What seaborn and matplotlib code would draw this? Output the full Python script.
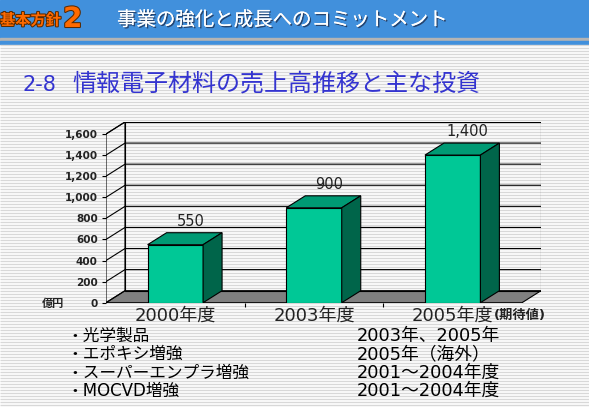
import numpy as np
import pandas as pd
import seaborn as sns
import matplotlib.pyplot as plt
from matplotlib.patches import Polygon, Rectangle
import matplotlib.patheffects as pe

# ---------------- data ----------------
years = ["2000年度", "2003年度", "2005年度"]
sales = [550, 900, 1400]
sales_labels = ["550", "900", "1,400"]
y_ticks = [0, 200, 400, 600, 800, 1000, 1200, 1400, 1600]
invest_items = ["・光学製品", "・エポキシ増強", "・スーパーエンプラ増強", "・MOCVD増強"]
invest_years = ["2003年、2005年", "2005年（海外）", "2001～2004年度", "2001～2004年度"]

sns.set_theme(style="white")
# wide latin digits from DejaVu, Japanese glyphs from Noto CJK
plt.rcParams['font.family'] = ['DejaVu Sans', 'Noto Sans CJK JP']
JP = ['Noto Sans CJK JP', 'DejaVu Sans']

W, H = 589, 408
fig = plt.figure(figsize=(W / 100, H / 100), dpi=100)

# background: stripes + banner, in pixel coords
bg = fig.add_axes([0, 0, 1, 1])
bg.set_xlim(0, W)
bg.set_ylim(H, 0)
bg.axis('off')
bg.hlines(np.arange(45, H, 3), 0, W, color='#d8d8d8', lw=1.0)
bg.add_patch(Rectangle((0, 0), W, 38, color='#4190dc'))
bg.add_patch(Rectangle((0, 38), W, 3, color='#b4b4b4'))
bg.add_patch(Rectangle((0, 41), W, 3, color='#4190dc'))

bg.text(0, 20, "基本方針", color='#ff6a00', fontsize=11, fontweight='bold', va='center', family=JP,
        path_effects=[pe.withStroke(linewidth=1.5, foreground='#5a2a00')])
bg.text(63, 19, "2", color='#ff6a00', fontsize=20, fontweight='bold', va='center',
        path_effects=[pe.withStroke(linewidth=1.5, foreground='#5a2a00')])
bg.text(117, 20, "事業の強化と成長へのコミットメント", color='white', fontsize=14, va='center', family=JP,
        path_effects=[pe.withSimplePatchShadow(offset=(1, -1), shadow_rgbFace='#203050', alpha=0.8),
                      pe.Normal()])
bg.text(22, 85, "2-8", color='#3434d0', fontsize=15, va='center')
bg.text(72, 85, "情報電子材料の売上高推移と主な投資", color='#3434d0', fontsize=17.3, va='center', family=JP)
bg.text(42, 303, "億円", fontsize=8, fontweight='bold', va='center', color='#222222', family=JP)

for i, (item, yr) in enumerate(zip(invest_items, invest_years)):
    yy = 336 + i * 18.3
    bg.text(66, yy, item, fontsize=12, va='center', color='black')
    bg.text(357, yy, yr, fontsize=12.8, va='center', color='black')

# ---------------- chart ----------------
x0, y0 = 106, 302.7
cat_px = 138.67
val_px = 168.7 / 1600
dx_px, dy_px = 19, 12
dx = dx_px / cat_px
dy = dy_px / val_px

ax = fig.add_axes([x0 / W, (H - y0) / H, (3 * cat_px + dx_px) / W, (168.7 + dy_px) / H])
ax.set_facecolor('none')

front_c, top_c, side_c = '#00c896', '#009a74', '#00654a'

df = pd.DataFrame({'year': years, 'sales': sales})
sns.barplot(data=df, x='year', y='sales', color=front_c, width=0.4, saturation=1,
            edgecolor='black', linewidth=0.8, ax=ax, zorder=3)

for p in list(ax.patches):
    bx, bw, bh = p.get_x(), p.get_width(), p.get_height()
    ax.add_patch(Polygon([(bx, bh), (bx + dx, bh + dy), (bx + bw + dx, bh + dy), (bx + bw, bh)],
                         closed=True, facecolor=top_c, edgecolor='black', lw=0.8, zorder=3))
    ax.add_patch(Polygon([(bx + bw, 0), (bx + bw + dx, dy), (bx + bw + dx, bh + dy), (bx + bw, bh)],
                         closed=True, facecolor=side_c, edgecolor='black', lw=0.8, zorder=3))

# floor and walls
ax.add_patch(Polygon([(-0.5, 0), (2.5, 0), (2.5 + dx, dy), (-0.5 + dx, dy)], closed=True,
                     facecolor='#808080', edgecolor='black', lw=0.8, zorder=1))
ax.add_patch(Polygon([(-0.5, 0), (-0.5 + dx, dy), (-0.5 + dx, 1600 + dy), (-0.5, 1600)], closed=True,
                     fill=False, edgecolor='black', lw=0.8, zorder=1))
ax.add_patch(Rectangle((-0.5 + dx, dy), 3, 1600, fill=False, edgecolor='black', lw=0.8, zorder=1))
for t in y_ticks[1:]:
    ax.plot([-0.5, -0.5 + dx, 2.5 + dx], [t, t + dy, t + dy], color='black', lw=0.8, zorder=1)

ax.set_xlim(-0.5, 2.5 + dx)
ax.set_ylim(0, 1600 + dy)
for s in ax.spines.values():
    s.set_visible(False)

ax.set_yticks(y_ticks)
ax.set_yticklabels([f"{t:,}" for t in y_ticks], fontsize=7.5, fontweight='bold', color='#222222')
ax.tick_params(axis='y', left=True, length=3, width=0.8, color='black', pad=3, direction='out')
ax.set_xticks([0, 1, 2])
ax.set_xticklabels([])
ax.set_xticks([0.5, 1.5], minor=True)
ax.tick_params(axis='x', which='major', length=0)
ax.tick_params(axis='x', which='minor', bottom=True, length=3, width=0.8, color='black', direction='out')
ax.set_xlabel('')
ax.set_ylabel('')

# category labels
for i, yr in enumerate(years):
    t = ax.annotate(yr, xy=(i, 0), xytext=(0, -9), textcoords='offset points',
                    ha='center', va='center', fontsize=13, color='#222222')
    if i == 2:
        ax.annotate("(期待値)", xy=(1, 0.5), xycoords=t, ha='left', va='center',
                    fontsize=9.5, fontweight='bold', color='#222222')

# value labels
for i, (v, lab) in enumerate(zip(sales, sales_labels)):
    ax.annotate(lab, xy=(i + dx / 2, v + dy), xytext=(4, 8), textcoords='offset points',
                ha='center', va='center', fontsize=10.5, color='#222222')

fig.savefig('out.png', dpi=100)
